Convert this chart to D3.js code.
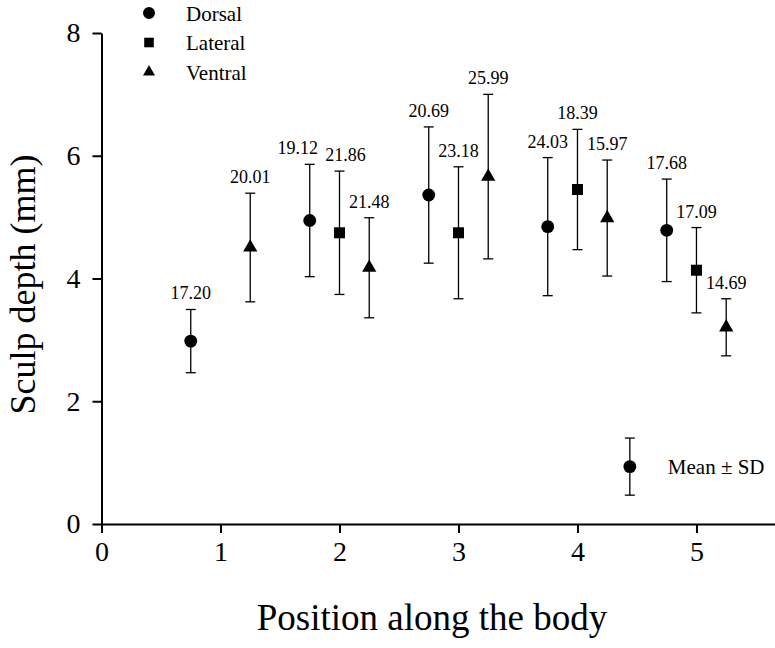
<!DOCTYPE html>
<html>
<head>
<meta charset="utf-8">
<script src="https://cdn.jsdelivr.net/npm/d3@7"></script>
<style>
  body { margin: 0; background: #fff; }
  svg { display: block; font-family: "Liberation Serif", "Times New Roman", serif; }
</style>
</head>
<body>
<div id="chart"></div>
<script>
// tick values
const xTicks = [0, 1, 2, 3, 4, 5];
const yTicks = [0, 2, 4, 6, 8];

// Dorsal
const dorsalX = [0.75, 1.75, 2.75, 3.75, 4.75];
const dorsalMean = [2.98, 4.945, 5.36, 4.845, 4.785];
const dorsalSD = [0.515, 0.915, 1.11, 1.125, 0.835];
const dorsalLabels = ["17.20", "19.12", "20.69", "24.03", "17.68"];

// Lateral
const lateralX = [2, 3, 4, 5];
const lateralMean = [4.745, 4.745, 5.45, 4.135];
const lateralSD = [1.005, 1.075, 0.98, 0.695];
const lateralLabels = ["21.86", "23.18", "18.39", "17.09"];

// Ventral
const ventralX = [1.25, 2.25, 3.25, 4.25, 5.25];
const ventralMean = [4.505, 4.175, 5.66, 4.985, 3.205];
const ventralSD = [0.885, 0.815, 1.34, 0.945, 0.465];
const ventralLabels = ["20.01", "21.48", "25.99", "15.97", "14.69"];

// key sample (Mean ± SD)
const keyX = 4.44;
const keyMean = 0.935;
const keySD = 0.465;

const width = 775, height = 648;
const margin = { top: 33, right: 0, bottom: 124, left: 101.5 };

const svg = d3.select("#chart").append("svg")
    .attr("width", width)
    .attr("height", height);

const x = d3.scaleLinear()
    .domain([0, 5.66])
    .range([margin.left, width - margin.right]);

const y = d3.scaleLinear()
    .domain([0, 8])
    .range([height - margin.bottom, margin.top]);

// build series
const series = [
    { name: "Dorsal", shape: d3.symbolCircle, size: 130, legendSize: 113,
      rows: dorsalX.map((d, i) => ({ x: d, mean: dorsalMean[i], sd: dorsalSD[i], label: dorsalLabels[i] })) },
    { name: "Lateral", shape: d3.symbolSquare, size: 121, legendSize: 92,
      rows: lateralX.map((d, i) => ({ x: d, mean: lateralMean[i], sd: lateralSD[i], label: lateralLabels[i] })) },
    { name: "Ventral", shape: d3.symbolTriangle, size: 88, legendSize: 62,
      rows: ventralX.map((d, i) => ({ x: d, mean: ventralMean[i], sd: ventralSD[i], label: ventralLabels[i] })) }
];

// labels that sit a bit sideways to avoid overlap
const labelNudge = { "19.12": -12, "21.86": 6 };

// axes
const xAxis = svg.append("g")
    .attr("transform", `translate(0,${y(0)})`)
    .call(d3.axisBottom(x).tickValues(xTicks).tickSize(9).tickSizeOuter(0).tickPadding(8).tickFormat(d3.format("d")));

const yAxis = svg.append("g")
    .attr("transform", `translate(${x(0)},0)`)
    .call(d3.axisLeft(y).tickValues(yTicks).tickSize(9).tickSizeOuter(0).tickPadding(12).tickFormat(d3.format("d")));

[xAxis, yAxis].forEach(g => {
    g.attr("font-family", null).attr("font-size", null);
    g.selectAll("path, line").attr("stroke", "#000").attr("stroke-width", 2);
    g.selectAll("text").attr("font-size", 28).attr("fill", "#000");
});

const cap = 5;

function drawErrorPoint(g, d, shape, size) {
    const cx = x(d.x);
    const top = y(d.mean + d.sd), bot = y(d.mean - d.sd);
    g.append("line").attr("x1", cx).attr("x2", cx).attr("y1", top).attr("y2", bot)
        .attr("stroke", "#000").attr("stroke-width", 1.3);
    [top, bot].forEach(yy => {
        g.append("line").attr("x1", cx - cap).attr("x2", cx + cap).attr("y1", yy).attr("y2", yy)
            .attr("stroke", "#000").attr("stroke-width", 1.3);
    });
    g.append("path")
        .attr("d", d3.symbol().type(shape).size(size)())
        .attr("transform", `translate(${cx},${y(d.mean)})`)
        .attr("fill", "#000");
}

const marks = svg.append("g");
series.forEach(s => {
    s.rows.forEach(d => {
        drawErrorPoint(marks, d, s.shape, s.size);
        marks.append("text")
            .attr("x", x(d.x) + (labelNudge[d.label] || 0))
            .attr("y", y(d.mean + d.sd) - 10)
            .attr("text-anchor", "middle")
            .attr("font-size", 18)
            .attr("fill", "#000")
            .text(d.label);
    });
});

// Mean ± SD key
const key = svg.append("g");
drawErrorPoint(key, { x: keyX, mean: keyMean, sd: keySD }, d3.symbolCircle, 130);
key.append("text")
    .attr("x", x(keyX) + 38)
    .attr("y", y(keyMean) + 7)
    .attr("font-size", 21)
    .attr("fill", "#000")
    .text("Mean \u00b1 SD");

// series legend
const legend = svg.append("g").attr("transform", "translate(149,13)");
const legendItem = legend.selectAll("g")
    .data(series)
    .join("g")
    .attr("transform", (d, i) => `translate(0,${i * 29.5})`);

legendItem.append("path")
    .attr("d", d => d3.symbol().type(d.shape).size(d.legendSize)())
    .attr("fill", "#000");

legendItem.append("text")
    .attr("x", 37)
    .attr("y", 7.5)
    .attr("font-size", 21)
    .attr("fill", "#000")
    .text(d => d.name);

// axis titles
svg.append("text")
    .attr("x", 432)
    .attr("y", 630)
    .attr("text-anchor", "middle")
    .attr("font-size", 37)
    .attr("fill", "#000")
    .text("Position along the body");

svg.append("text")
    .attr("transform", `translate(35,${(y(0) + y(8)) / 2 + 6}) rotate(-90)`)
    .attr("text-anchor", "middle")
    .attr("font-size", 36)
    .attr("fill", "#000")
    .text("Sculp depth (mm)");
</script>
</body>
</html>
